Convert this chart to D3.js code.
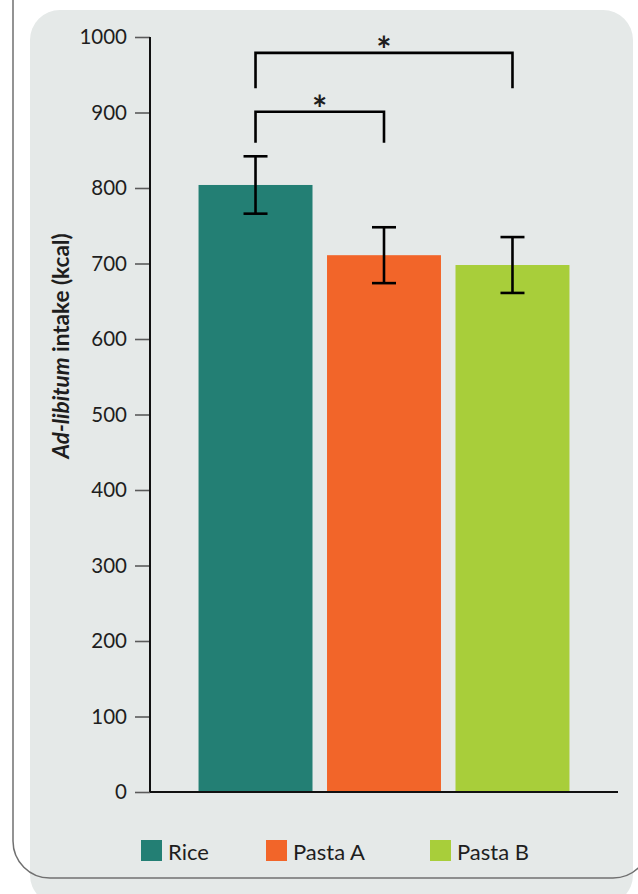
<!DOCTYPE html>
<html>
<head>
<meta charset="utf-8">
<script src="https://cdn.jsdelivr.net/npm/d3@7"></script>
<style>
  html, body { margin: 0; padding: 0; background: #ffffff; }
  svg { display: block; }
  text { font-family: Lato, "Open Sans", sans-serif; fill: #1e1e1e; }
</style>
</head>
<body>
<svg id="chart" width="638" height="894"></svg>
<script>
// ---- data ----
const categories = ["Rice", "Pasta A", "Pasta B"];
const means = [804, 711, 698];
const errors = [38, 37, 37];
const barColors = ["#237F74", "#F26529", "#A8CE3A"];
const yTicks = [0, 100, 200, 300, 400, 500, 600, 700, 800, 900, 1000];
const bracketPairs = [[0, 2], [0, 1]];
const bracketTops = [979, 901];
const bracketLegBottoms = [932, 860];
const bracketLabels = ["*", "*"];
const yLabelItalic = "Ad-libitum";
const yLabelRest = " intake (kcal)";

// ---- drawing ----
const svg = d3.select("#chart");

// panel background
svg.append("rect")
  .attr("x", 30).attr("y", 10)
  .attr("width", 603).attr("height", 895)
  .attr("rx", 30).attr("ry", 30)
  .attr("fill", "#E5E9E8");

// outer outline
svg.append("rect")
  .attr("x", 13).attr("y", -60)
  .attr("width", 637).attr("height", 938)
  .attr("rx", 37).attr("ry", 37)
  .attr("fill", "none")
  .attr("stroke", "#707070")
  .attr("stroke-width", 1.5);

const y = d3.scaleLinear().domain([0, 1000]).range([792, 37]);
const x = d3.scaleBand().domain(categories).range([151, 617])
  .paddingInner(0.113).paddingOuter(0.37);

// y axis
const yAxis = svg.append("g")
  .attr("transform", "translate(150,0)")
  .call(d3.axisLeft(y).tickValues(yTicks).tickSize(15).tickPadding(8).tickFormat(d3.format("d")));
yAxis.select(".domain").remove();
yAxis.selectAll(".tick line").attr("stroke", "#5a5a5a").attr("stroke-width", 1.6);
yAxis.selectAll(".tick text")
  .attr("font-family", "Lato, sans-serif")
  .attr("font-size", 20.5)
  .attr("fill", "#1e1e1e");

svg.append("line")
  .attr("x1", 150).attr("x2", 150)
  .attr("y1", y(1000)).attr("y2", y(0))
  .attr("stroke", "#111").attr("stroke-width", 2);

// bars
svg.selectAll("rect.bar")
  .data(categories)
  .join("rect")
  .attr("class", "bar")
  .attr("x", d => x(d))
  .attr("width", x.bandwidth())
  .attr("y", (d, i) => y(means[i]))
  .attr("height", (d, i) => y(0) - y(means[i]))
  .attr("fill", (d, i) => barColors[i]);

// x axis baseline
svg.append("line")
  .attr("x1", 150).attr("x2", 618)
  .attr("y1", y(0)).attr("y2", y(0))
  .attr("stroke", "#111").attr("stroke-width", 2);

// error bars
const capW = 24;
const eb = svg.append("g").attr("stroke", "#000").attr("stroke-width", 2.6);
categories.forEach((c, i) => {
  const cx = x(c) + x.bandwidth() / 2;
  const top = y(means[i] + errors[i]);
  const bot = y(means[i] - errors[i]);
  eb.append("line").attr("x1", cx).attr("x2", cx).attr("y1", top).attr("y2", bot);
  eb.append("line").attr("x1", cx - capW / 2).attr("x2", cx + capW / 2).attr("y1", top).attr("y2", top);
  eb.append("line").attr("x1", cx - capW / 2).attr("x2", cx + capW / 2).attr("y1", bot).attr("y2", bot);
});

// significance brackets
const starSize = 36;
bracketPairs.forEach((p, k) => {
  const x1 = x(categories[p[0]]) + x.bandwidth() / 2;
  const x2 = x(categories[p[1]]) + x.bandwidth() / 2;
  const yt = y(bracketTops[k]);
  const yb = y(bracketLegBottoms[k]);
  svg.append("path")
    .attr("d", `M${x1},${yb}V${yt}H${x2}V${yb}`)
    .attr("fill", "none")
    .attr("stroke", "#000")
    .attr("stroke-width", 2.6)
    .attr("stroke-linejoin", "miter");
  svg.append("text")
    .attr("x", (x1 + x2) / 2)
    .attr("y", yt - 11 + starSize * 0.59)
    .attr("text-anchor", "middle")
    .attr("font-family", "DejaVu Sans, sans-serif")
    .attr("font-weight", "bold")
    .attr("font-size", starSize)
    .attr("fill", "#000")
    .text(bracketLabels[k]);
});

// y axis label
const yl = svg.append("text")
  .attr("transform", "translate(69,346) rotate(-90)")
  .attr("text-anchor", "middle")
  .attr("font-size", 22.5)
  .attr("font-weight", "bold");
yl.append("tspan").attr("font-style", "italic").text(yLabelItalic);
yl.append("tspan").text(yLabelRest);

// legend
const legendX = [141, 266, 430];
const lg = svg.append("g");
categories.forEach((c, i) => {
  lg.append("rect")
    .attr("x", legendX[i]).attr("y", 840)
    .attr("width", 21).attr("height", 21)
    .attr("fill", barColors[i]);
  lg.append("text")
    .attr("x", legendX[i] + 27).attr("y", 860)
    .attr("font-size", 22)
    .text(c);
});
</script>
</body>
</html>
